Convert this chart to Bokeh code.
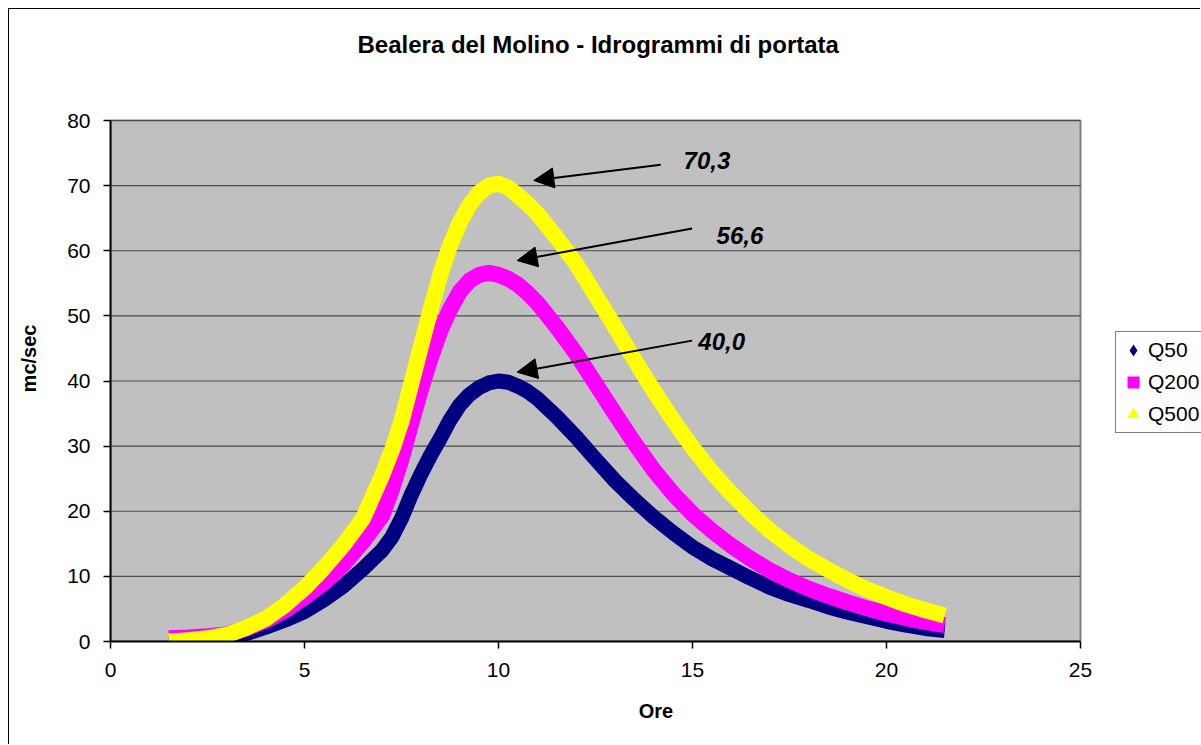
from bokeh.plotting import figure
from bokeh.models import Range1d, Legend, LegendItem, Arrow, NormalHead, Label, FixedTicker
from bokeh.embed import file_html
from bokeh.resources import INLINE

# ---------------- data ----------------
ore = [1.5, 2.0, 2.5, 3.0, 3.5, 4.0, 4.5, 5.0, 5.5, 6.0, 6.5,
       7.0, 7.25, 7.5, 7.75, 8.0, 8.25, 8.5, 8.75, 9.0, 9.25, 9.5, 9.75,
       10.0, 10.25, 10.5, 10.75, 11.0,
       11.5, 12.0, 12.5, 13.0, 13.5, 14.0, 14.5, 15.0, 15.5, 16.0,
       16.5, 17.0, 17.5, 18.0, 18.5, 19.0, 19.5, 20.0, 20.5, 21.0,
       21.5]

q50 = [0.0, 0.0, 0.1, 0.4, 1.2, 2.2, 3.3, 4.6, 6.4, 8.5, 11.1,
       14.0, 16.0, 18.9, 22.5, 25.7, 28.6, 31.2, 34.0, 36.3, 37.9, 39.0, 39.7,
       40.0, 39.8, 39.2, 38.4, 37.3,
       34.5, 31.4, 28.0, 24.7, 21.8, 19.1, 16.7, 14.5, 12.7, 11.2,
       9.7, 8.3, 7.2, 6.3, 5.3, 4.5, 3.8, 3.1, 2.5, 2.0,
       1.7]

q200 = [0.5, 0.6, 0.8, 1.1, 2.0, 3.2, 4.8, 6.8, 9.0, 11.8, 15.3,
        19.3, 23.3, 28.0, 33.5, 38.7, 43.5, 47.7, 51.0, 53.7, 55.4, 56.3, 56.6,
        56.3, 55.7, 54.8, 53.5, 52.0,
        48.3, 44.2, 39.6, 35.0, 30.5, 26.3, 22.7, 19.6, 17.0, 14.7,
        12.7, 10.9, 9.4, 8.1, 7.0, 6.0, 5.1, 4.3, 3.6, 3.0,
        2.5]

q500 = [0.0, 0.2, 0.5, 1.0, 2.1, 3.5, 5.6, 8.2, 11.3, 14.8, 18.8,
        25.5, 29.3, 33.8, 39.5, 45.3, 51.0, 56.3, 60.8, 64.3, 67.0, 68.9, 70.0,
        70.3, 69.7, 68.5, 67.2, 65.7,
        62.0, 58.0, 53.2, 48.3, 43.3, 38.5, 34.0, 29.8, 26.0, 22.7,
        19.7, 17.0, 14.7, 12.7, 11.0, 9.4, 8.0, 6.8, 5.7, 4.8,
        4.0]

series_names = ["Q50", "Q200", "Q500"]
x_ticks = [0, 5, 10, 15, 20, 25]
y_ticks = [0, 10, 20, 30, 40, 50, 60, 70, 80]
title_text = "Bealera del Molino - Idrogrammi di portata"

# ---------------- layout ----------------
FONT = "Liberation Sans"
colors = ["#000080", "#FF00FF", "#FFFF00"]
widths = [15, 16, 16]
markers = ["diamond", "square", "triangle"]

X_MIN, X_MAX = x_ticks[0], x_ticks[-1]
Y_MIN, Y_MAX = y_ticks[0], y_ticks[-1]
FIG_W, FIG_H = 1192, 736
BORDER_L, BORDER_B, BORDER_T = 101, 104, 66
AREA_W, AREA_H = 970, 521           # pixel size of the grey plotting area
frame_w = FIG_W - BORDER_L
frame_h = FIG_H - BORDER_B - BORDER_T
x_end = X_MAX * frame_w / AREA_W     # the frame extends right (legend) and a bit up
y_end = Y_MAX * frame_h / AREA_H

p = figure(width=FIG_W, height=FIG_H, output_backend="svg", toolbar_location=None,
           x_range=Range1d(X_MIN, x_end), y_range=Range1d(Y_MIN, y_end),
           min_border_left=BORDER_L, min_border_right=0, min_border_top=BORDER_T,
           min_border_bottom=BORDER_B,
           background_fill_color="white", border_fill_color="white",
           styles={"margin-left": "8px", "margin-top": "8px",
                   "border-left": "1px solid black", "border-top": "1px solid black"})
p.outline_line_color = None
p.grid.visible = False

p.title.text = title_text
p.title.text_font = FONT
p.title.text_font_size = "24px"
p.title.text_font_style = "bold"
p.title.text_color = "black"
p.title.align = "left"
p.title.vertical_align = "bottom"
p.title.offset = 247
p.title.standoff = 36

# grey plotting area with its frame
p.quad(left=[X_MIN], right=[X_MAX], bottom=[Y_MIN], top=[Y_MAX],
       fill_color="#C0C0C0", line_color="#808080", line_width=2)
# horizontal grid lines
p.segment(x0=[X_MIN] * len(y_ticks), x1=[X_MAX] * len(y_ticks), y0=y_ticks, y1=y_ticks,
          line_color="#4d4d4d", line_width=1.2)

p.xaxis.ticker = FixedTicker(ticks=x_ticks)
p.yaxis.ticker = FixedTicker(ticks=y_ticks)
p.xaxis.bounds = (X_MIN, X_MAX)
p.yaxis.bounds = (Y_MIN, Y_MAX)
p.xaxis.axis_label = "Ore"
p.yaxis.axis_label = "mc/sec"
for ax in (p.xaxis[0], p.yaxis[0]):
    ax.axis_line_color = "black"
    ax.axis_line_width = 2
    ax.major_tick_line_color = "black"
    ax.major_tick_line_width = 1.5
    ax.major_tick_out = 7
    ax.major_tick_in = 0
    ax.minor_tick_line_color = None
    ax.major_label_text_font = FONT
    ax.major_label_text_font_size = "21px"
    ax.major_label_text_color = "black"
    ax.axis_label_text_font = FONT
    ax.axis_label_text_font_size = "20px"
    ax.axis_label_text_font_style = "bold"
    ax.axis_label_text_color = "black"
p.xaxis.major_label_standoff = 14
p.xaxis.axis_label_standoff = 20
p.yaxis.major_label_standoff = 13
p.yaxis.axis_label_standoff = 24

# ---------------- lines ----------------
all_series = [q50, q200, q500]
legend_renderers = []
for q, col, w in zip(all_series, colors, widths):
    p.line(ore, q, line_color=col, line_width=w, line_join="round", line_cap="butt")
for q, col, m in zip(all_series, colors, markers):
    r = p.scatter(ore, q, marker=m, size=0, fill_color=col, line_color=None)
    legend_renderers.append(r)

legend = Legend(items=[LegendItem(label=n, renderers=[r]) for n, r in zip(series_names, legend_renderers)],
                location=(1005, 208), glyph_width=30, glyph_height=32, label_standoff=0,
                padding=2, spacing=0, margin=0,
                label_text_font=FONT, label_text_font_size="21px", label_text_color="black",
                border_line_color="black", border_line_width=1.5, background_fill_color="white")
p.add_layout(legend)

# ---------------- peak annotations ----------------
# offsets (hours, mc/sec) relative to each peak: arrow start, arrow end, label position
ann_offsets = [
    ((4.99, 6.2), (0.48, 1.35), (5.15, 6.1)),
    ((5.24, 6.8), (0.73, 1.9), (5.87, 5.7)),
    ((4.18, 2.9), (0.91, 0.5), (4.77, 3.6)),
]
for q, (s_off, e_off, t_off) in zip(all_series, ann_offsets):
    i = q.index(max(q))
    pt, pq = ore[i], q[i]
    p.add_layout(Arrow(end=NormalHead(size=20, fill_color="black", line_color="black"),
                       x_start=pt + s_off[0], y_start=pq + s_off[1],
                       x_end=pt + e_off[0], y_end=pq + e_off[1],
                       line_color="black", line_width=2))
    p.add_layout(Label(x=pt + t_off[0], y=pq + t_off[1], text=f"{pq:.1f}".replace(".", ","),
                       text_font=FONT, text_font_size="24px", text_font_style="bold italic",
                       text_baseline="middle", text_align="left", text_color="black"))

open("out.html", "w").write(file_html(p, INLINE))
